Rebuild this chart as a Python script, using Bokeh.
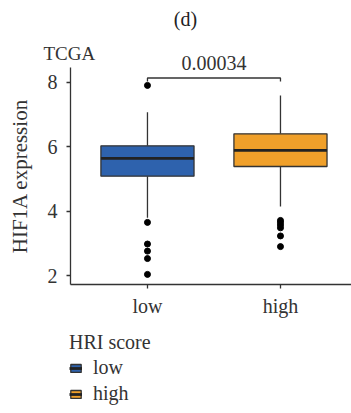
from bokeh.plotting import figure
from bokeh.models import (Range1d, FixedTicker, Label, Legend, LegendItem,
                          ColumnDataSource)
from bokeh.embed import file_html
from bokeh.resources import INLINE

# ---- data ----
groups = ["low", "high"]
xpos = [1, 2]
colors = ["#2e62ad", "#f0a02a"]
q1 = [5.09, 5.39]
median = [5.64, 5.89]
q3 = [6.03, 6.40]
whisk_lo = [3.80, 4.15]
whisk_hi = [7.07, 7.59]
outliers = {
    "low": [7.90, 3.66, 2.99, 2.77, 2.54, 2.05],
    "high": [3.72, 3.66, 3.58, 3.49, 3.24, 2.91],
}
y_ticks = [2, 4, 6, 8]
p_value = "0.00034"
bracket_y = 8.13
bracket_drop = 8.02

# panel extent (data units)
x_lo, x_hi = 0.421, 2.534
y_lo, y_hi = 1.728, 8.44

FONT = "Liberation Serif"
TXT = "#333333"
LINE = "#333333"

W, H = 351, 413
p = figure(width=W, height=H, output_backend="svg", toolbar_location=None,
           x_range=Range1d(-0.105, 2.534), y_range=Range1d(-2.257, 10.529),
           min_border=0, min_border_left=0, min_border_right=0,
           min_border_top=0, min_border_bottom=0, outline_line_color=None)
p.xgrid.visible = False
p.ygrid.visible = False
p.background_fill_color = "white"
p.border_fill_color = "white"

for ax in (p.xaxis, p.yaxis):
    ax.axis_line_color = LINE
    ax.axis_line_width = 1.3
    ax.major_tick_line_color = LINE
    ax.major_tick_line_width = 1.3
    ax.major_tick_out = 4
    ax.major_tick_in = 0
    ax.minor_tick_line_color = None
    ax.major_label_text_font = FONT
    ax.major_label_text_font_size = "20px"
    ax.major_label_text_color = TXT

p.xaxis.fixed_location = y_lo
p.xaxis.bounds = (x_lo, x_hi)
p.xaxis.ticker = FixedTicker(ticks=xpos)
p.xaxis.major_label_overrides = {x: g for x, g in zip(xpos, groups)}
p.xaxis.major_label_standoff = 6

p.yaxis.fixed_location = x_lo
p.yaxis.bounds = (y_lo, y_hi)
p.yaxis.ticker = FixedTicker(ticks=y_ticks)
p.yaxis.major_label_standoff = 9
p.yaxis.axis_label = "HIF1A expression"
p.yaxis.axis_label_text_font = FONT
p.yaxis.axis_label_text_font_size = "21px"
p.yaxis.axis_label_text_font_style = "normal"
p.yaxis.axis_label_text_color = TXT
p.yaxis.axis_label_standoff = 13

legend_items = []
for i, g in enumerate(groups):
    src = ColumnDataSource(dict(x=[xpos[i]], q1=[q1[i]], q3=[q3[i]], med=[median[i]],
                                lo=[whisk_lo[i]], hi=[whisk_hi[i]]))
    p.segment(x0="x", y0="q3", x1="x", y1="hi", source=src, line_color=LINE, line_width=1.3)
    p.segment(x0="x", y0="lo", x1="x", y1="q1", source=src, line_color=LINE, line_width=1.3)
    box = p.vbar(x="x", bottom="q1", top="q3", width=0.7, source=src,
                 fill_color=colors[i], line_color=LINE, line_width=1.3)
    med = p.segment(x0=xpos[i] - 0.35, y0="med", x1=xpos[i] + 0.35, y1="med",
                    source=src, line_color="#222222", line_width=2.8)
    ys = outliers[g]
    p.scatter([xpos[i]] * len(ys), ys, size=6, color="black")
    legend_items.append(LegendItem(label=g, renderers=[box, med]))

p.line([xpos[0], xpos[0], xpos[1], xpos[1]],
       [bracket_drop, bracket_y, bracket_y, bracket_drop], line_color=LINE, line_width=1.3)
p.add_layout(Label(x=1.5, y=bracket_y, y_offset=15, text=p_value, text_align="center",
                   text_font=FONT, text_font_size="20px", text_color=TXT,
                   text_baseline="alphabetic"))

p.add_layout(Label(x=43, y=360, x_units="screen", y_units="screen", text="TCGA",
                   text_font=FONT, text_font_size="19px", text_color=TXT,
                   text_baseline="alphabetic"))
p.add_layout(Label(x=185, y=395, x_units="screen", y_units="screen", text="(d)",
                   text_align="center", text_font=FONT, text_font_size="20px",
                   text_color="#222222", text_baseline="alphabetic"))

legend = Legend(items=legend_items, title="HRI score", location=(69, 8),
                orientation="vertical", title_text_font=FONT,
                title_text_font_size="20px", title_text_color=TXT,
                title_text_font_style="normal", title_standoff=2,
                label_text_font=FONT, label_text_font_size="20px",
                label_text_color=TXT, glyph_width=13, glyph_height=10,
                label_standoff=11, spacing=3, padding=0, margin=0,
                border_line_color=None, background_fill_alpha=0)
p.add_layout(legend, "center")

open("out.html", "w").write(file_html(p, INLINE))
